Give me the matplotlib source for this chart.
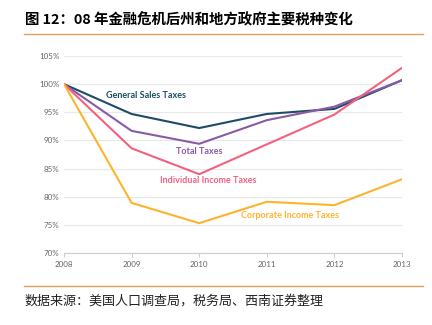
import matplotlib
matplotlib.use('Agg')
import matplotlib.pyplot as plt
from matplotlib.lines import Line2D

plt.rcParams['font.family'] = ['Lato', 'DejaVu Sans']

# data (percent of 2008 level)
years = [2008, 2009, 2010, 2011, 2012, 2013]
general_sales = [100, 94.7, 92.2, 94.7, 95.6, 100.7]
total_taxes = [100, 91.7, 89.4, 93.6, 96.0, 100.7]
individual_income = [100, 88.6, 84.0, 89.3, 94.6, 102.9]
corporate_income = [100, 78.9, 75.3, 79.1, 78.5, 83.1]
y_ticks = [70, 75, 80, 85, 90, 95, 100, 105]

title = '图 12：08 年金融危机后州和地方政府主要税种变化'
source = '数据来源：美国人口调查局，税务局、西南证券整理'

W, H = 432, 325
fig = plt.figure(figsize=(W / 100, H / 100), dpi=100)

# axes placed in pixel coords: x 64..402, y 56..253
ax = fig.add_axes([64 / W, 1 - 253 / H, (402 - 64) / W, (253 - 56) / H])

c_gen = '#1d4d63'
c_tot = '#8a5aa6'
c_ind = '#f2627f'
c_cor = '#fdb42c'

ax.plot(years, general_sales, color=c_gen, lw=1.5)
ax.plot(years, total_taxes, color=c_tot, lw=1.5)
ax.plot(years, individual_income, color=c_ind, lw=1.5)
ax.plot(years, corporate_income, color=c_cor, lw=1.5)

ax.text(2009.21, 97.9, 'General Sales Taxes', color=c_gen, fontsize=6.5,
        fontweight='bold', ha='center', va='center')
ax.text(2010.0, 88.1, 'Total Taxes', color=c_tot, fontsize=6.5,
        fontweight='bold', ha='center', va='center')
ax.text(2010.14, 82.8, 'Individual Income Taxes', color=c_ind, fontsize=6.5,
        fontweight='bold', ha='center', va='center')
ax.text(2011.34, 76.75, 'Corporate Income Taxes', color=c_cor, fontsize=6.5,
        fontweight='bold', ha='center', va='center')

ax.set_xlim(2008, 2013)
ax.set_ylim(70, 105)
ax.set_xticks(years)
ax.set_xticklabels([str(y) for y in years])
ax.set_yticks(y_ticks)
ax.set_yticklabels([f'{v}%' for v in y_ticks])
ax.tick_params(axis='both', labelsize=5.8, colors='#666666', length=0)
ax.tick_params(axis='x', length=3, color='#cccccc', pad=3)
ax.grid(axis='y', color='#e8e8e8', lw=0.8)
ax.set_axisbelow(True)
for s in ['top', 'right', 'left']:
    ax.spines[s].set_visible(False)
ax.spines['bottom'].set_color('#cccccc')
ax.spines['bottom'].set_linewidth(0.8)

# title and source
fig.text(25 / W, 1 - 20 / H, title, fontsize=10.4, fontweight='bold',
         family=['Noto Sans CJK SC', 'DejaVu Sans'], va='center', ha='left')
fig.add_artist(Line2D([24 / W, 423 / W], [1 - 34 / H, 1 - 34 / H],
                      color='#dca158', lw=1, transform=fig.transFigure))
fig.add_artist(Line2D([24 / W, 423 / W], [1 - 286 / H, 1 - 286 / H],
                      color='#dca158', lw=1, transform=fig.transFigure))
fig.text(25 / W, 1 - 301 / H, source, fontsize=9.4, style='italic',
         family=['Noto Sans CJK SC', 'DejaVu Sans'], va='center', ha='left',
         color='#222222')

fig.savefig('out.png', dpi=100)
